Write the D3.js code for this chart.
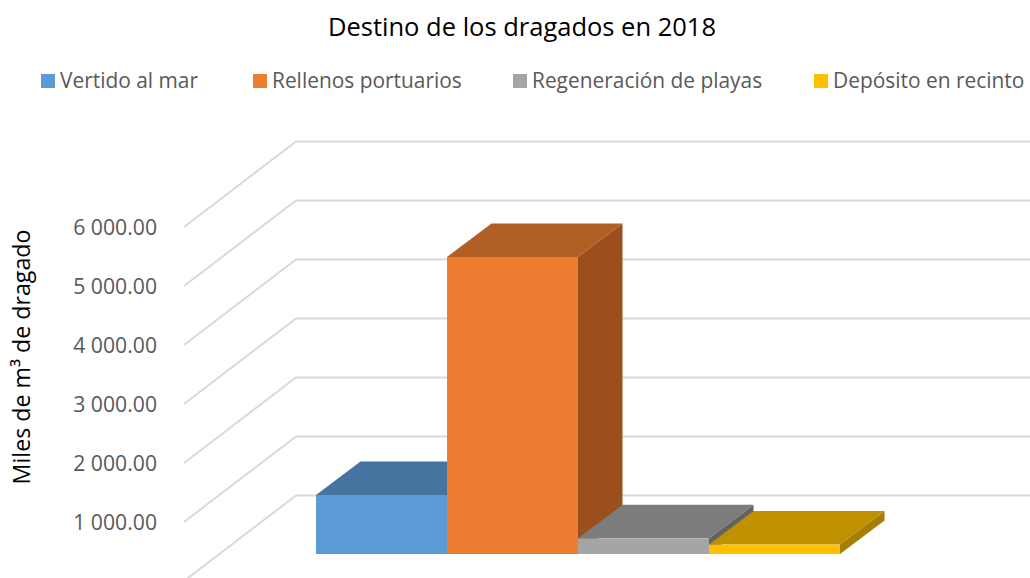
<!DOCTYPE html>
<html><head><meta charset="utf-8">
<script src="https://cdn.jsdelivr.net/npm/d3@7"></script>
<style>html,body{margin:0;padding:0;background:#fff}svg{display:block}text{font-family:"Open Sans",sans-serif}</style>
</head><body><svg id="c" width="1030" height="578"></svg>
<script>
const chartTitle = "Destino de los dragados en 2018";
const axisTitle = "Miles de m³ de dragado";
const categories = ["Vertido al mar","Rellenos portuarios","Regeneración de playas","Depósito en recinto"];
const values = [1000,5035,265,160];
const tickValues = [1000,2000,3000,4000,5000,6000];
const gridValues = [0,1000,2000,3000,4000,5000,6000];
const frontColors = ["#5B9BD5","#ED7D31","#A5A5A5","#FFC000"];
const topColors = ["#44749F","#B15F24","#7C7C7C","#BF9000"];
const sideColors = ["#3A6589","#9A4F1C","#636363","#A67D00"];
const legendX = [41,253,513,814];

const svg = d3.select("#c");
const W = 1030;

const yFront = d3.scaleLinear().domain([0,6000]).range([581,227]);
const yBar = d3.scaleLinear().domain([0,6000]).range([554,200]);
const x = d3.scaleBand().domain(categories).range([316,840]).padding(0);
const wallDX = d3.scaleLinear().domain([0,1]).range([0,112]);
const wallDY = d3.scaleLinear().domain([0,1]).range([0,-85.5]);
const barDX = d3.scaleLinear().domain([0,1]).range([0,44.5]);
const barDY = d3.scaleLinear().domain([0,1]).range([0,-33.5]);
const xWall = 184;

svg.append("text").attr("x",522).attr("y",36).attr("text-anchor","middle")
  .attr("font-size",25.5).attr("fill","#000").text(chartTitle);

const leg = svg.append("g").selectAll("g").data(categories).join("g")
  .attr("transform",(d,i)=>`translate(${legendX[i]},0)`);
leg.append("rect").attr("x",0).attr("y",74).attr("width",14).attr("height",14)
  .attr("fill",(d,i)=>frontColors[i]);
leg.append("text").attr("x",19).attr("y",88).attr("font-size",20.9)
  .attr("fill","#595959").text(d=>d);

const line = d3.line();
svg.append("g").selectAll("path").data(gridValues).join("path")
  .attr("d",v=>line([
    [xWall,yFront(v)],
    [xWall+wallDX(1),yFront(v)+wallDY(1)],
    [W,yFront(v)+wallDY(1)]
  ]))
  .attr("fill","none").attr("stroke","#D9D9D9").attr("stroke-width",2);

const fmt = v => d3.format(",.2f")(v).replace(",", " ");
svg.append("g").selectAll("text").data(tickValues).join("text")
  .attr("x",157).attr("y",v=>yFront(v)+7.5).attr("text-anchor","end")
  .attr("font-size",21.2).attr("fill","#595959").text(fmt);

svg.append("text").attr("transform","translate(30,357) rotate(-90)")
  .attr("text-anchor","middle").attr("font-size",23.2).attr("fill","#000").text(axisTitle);

const bars = svg.append("g").selectAll("g").data(categories).join("g");
const dx = barDX(1), dy = barDY(1);
bars.append("path").attr("fill",(d,i)=>sideColors[i])
  .attr("d",(d,i)=>{
    const r=x(d)+x.bandwidth(), t=yBar(values[i]), b=yBar(0);
    return line([[r,t],[r+dx,t+dy],[r+dx,b+dy],[r,b]])+"Z";
  });
bars.append("path").attr("fill",(d,i)=>topColors[i])
  .attr("d",(d,i)=>{
    const l=x(d), r=l+x.bandwidth(), t=yBar(values[i]);
    return line([[l,t],[l+dx,t+dy],[r+dx,t+dy],[r,t]])+"Z";
  });
bars.append("rect").attr("fill",(d,i)=>frontColors[i])
  .attr("x",d=>x(d)).attr("width",x.bandwidth())
  .attr("y",(d,i)=>yBar(values[i])).attr("height",(d,i)=>yBar(0)-yBar(values[i]));
</script></body></html>
